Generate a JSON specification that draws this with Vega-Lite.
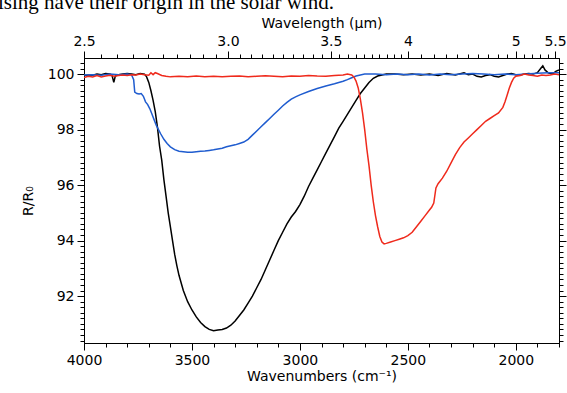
{
  "$schema": "https://vega.github.io/schema/vega-lite/v6.json",
  "width": 475,
  "height": 285,
  "autosize": "none",
  "padding": {"left": 84, "top": 58, "right": 8, "bottom": 50},
  "background": "white",
  "title": {
    "text": "ising have their origin in the solar wind.",
    "anchor": "start",
    "frame": "group",
    "font": "Liberation Serif",
    "fontSize": 21,
    "fontWeight": "normal",
    "color": "black",
    "baseline": "alphabetic",
    "offset": 0,
    "dx": -86,
    "dy": 14
  },
  "config": {
    "view": {"stroke": null},
    "axis": {
      "grid": false,
      "domainColor": "black",
      "tickColor": "black",
      "domainWidth": 1,
      "tickWidth": 1,
      "labelFont": "DejaVu Sans",
      "labelFontSize": 14,
      "labelColor": "black",
      "titleFont": "DejaVu Sans",
      "titleFontSize": 14,
      "titleFontWeight": "normal",
      "titleColor": "black",
      "labelFlush": false,
      "labelOverlap": false,
      "labelBound": false
    }
  },
  "datasets": {
    "spectra": [
      {"w": 4000, "v": 99.95, "s": "black"}, {"w": 3980, "v": 99.97, "s": "black"}, {"w": 3960, "v": 99.96, "s": "black"}, {"w": 3940, "v": 100.0, "s": "black"}, {"w": 3920, "v": 99.98, "s": "black"}, {"w": 3900, "v": 100.02, "s": "black"}, {"w": 3880, "v": 100.0, "s": "black"}, {"w": 3870, "v": 99.95, "s": "black"}, {"w": 3862, "v": 99.7, "s": "black"}, {"w": 3855, "v": 99.93, "s": "black"}, {"w": 3840, "v": 99.98, "s": "black"}, {"w": 3820, "v": 100.0, "s": "black"}, {"w": 3800, "v": 100.02, "s": "black"}, {"w": 3780, "v": 100.0, "s": "black"}, {"w": 3760, "v": 99.98, "s": "black"}, {"w": 3740, "v": 100.02, "s": "black"}, {"w": 3720, "v": 100.0, "s": "black"}, {"w": 3710, "v": 99.9, "s": "black"}, {"w": 3700, "v": 99.7, "s": "black"}, {"w": 3690, "v": 99.4, "s": "black"}, {"w": 3680, "v": 99.05, "s": "black"}, {"w": 3670, "v": 98.65, "s": "black"}, {"w": 3660, "v": 98.1, "s": "black"}, {"w": 3650, "v": 97.4, "s": "black"}, {"w": 3640, "v": 96.9, "s": "black"}, {"w": 3630, "v": 96.2, "s": "black"}, {"w": 3620, "v": 95.6, "s": "black"}, {"w": 3610, "v": 95.0, "s": "black"}, {"w": 3600, "v": 94.5, "s": "black"}, {"w": 3590, "v": 94.0, "s": "black"}, {"w": 3580, "v": 93.5, "s": "black"}, {"w": 3570, "v": 93.1, "s": "black"}, {"w": 3560, "v": 92.75, "s": "black"}, {"w": 3540, "v": 92.2, "s": "black"}, {"w": 3520, "v": 91.8, "s": "black"}, {"w": 3500, "v": 91.5, "s": "black"}, {"w": 3480, "v": 91.25, "s": "black"}, {"w": 3460, "v": 91.05, "s": "black"}, {"w": 3440, "v": 90.9, "s": "black"}, {"w": 3420, "v": 90.8, "s": "black"}, {"w": 3400, "v": 90.75, "s": "black"}, {"w": 3380, "v": 90.78, "s": "black"}, {"w": 3360, "v": 90.8, "s": "black"}, {"w": 3340, "v": 90.85, "s": "black"}, {"w": 3320, "v": 90.95, "s": "black"}, {"w": 3300, "v": 91.1, "s": "black"}, {"w": 3280, "v": 91.3, "s": "black"}, {"w": 3260, "v": 91.5, "s": "black"}, {"w": 3240, "v": 91.75, "s": "black"}, {"w": 3220, "v": 92.0, "s": "black"}, {"w": 3200, "v": 92.3, "s": "black"}, {"w": 3180, "v": 92.6, "s": "black"}, {"w": 3160, "v": 92.95, "s": "black"}, {"w": 3140, "v": 93.3, "s": "black"}, {"w": 3120, "v": 93.65, "s": "black"}, {"w": 3100, "v": 94.0, "s": "black"}, {"w": 3080, "v": 94.3, "s": "black"}, {"w": 3060, "v": 94.6, "s": "black"}, {"w": 3040, "v": 94.85, "s": "black"}, {"w": 3020, "v": 95.05, "s": "black"}, {"w": 3000, "v": 95.3, "s": "black"}, {"w": 2980, "v": 95.6, "s": "black"}, {"w": 2960, "v": 95.95, "s": "black"}, {"w": 2940, "v": 96.25, "s": "black"}, {"w": 2920, "v": 96.55, "s": "black"}, {"w": 2900, "v": 96.85, "s": "black"}, {"w": 2880, "v": 97.15, "s": "black"}, {"w": 2860, "v": 97.45, "s": "black"}, {"w": 2840, "v": 97.75, "s": "black"}, {"w": 2820, "v": 98.05, "s": "black"}, {"w": 2800, "v": 98.3, "s": "black"}, {"w": 2780, "v": 98.55, "s": "black"}, {"w": 2760, "v": 98.8, "s": "black"}, {"w": 2740, "v": 99.05, "s": "black"}, {"w": 2720, "v": 99.3, "s": "black"}, {"w": 2700, "v": 99.5, "s": "black"}, {"w": 2680, "v": 99.7, "s": "black"}, {"w": 2660, "v": 99.85, "s": "black"}, {"w": 2640, "v": 99.93, "s": "black"}, {"w": 2620, "v": 99.97, "s": "black"}, {"w": 2600, "v": 100.0, "s": "black"}, {"w": 2560, "v": 100.0, "s": "black"}, {"w": 2520, "v": 99.98, "s": "black"}, {"w": 2480, "v": 100.0, "s": "black"}, {"w": 2440, "v": 99.97, "s": "black"}, {"w": 2400, "v": 100.0, "s": "black"}, {"w": 2360, "v": 99.95, "s": "black"}, {"w": 2320, "v": 100.02, "s": "black"}, {"w": 2280, "v": 99.97, "s": "black"}, {"w": 2240, "v": 100.05, "s": "black"}, {"w": 2220, "v": 99.98, "s": "black"}, {"w": 2200, "v": 100.0, "s": "black"}, {"w": 2180, "v": 99.92, "s": "black"}, {"w": 2160, "v": 99.9, "s": "black"}, {"w": 2140, "v": 99.95, "s": "black"}, {"w": 2120, "v": 99.98, "s": "black"}, {"w": 2100, "v": 99.92, "s": "black"}, {"w": 2080, "v": 99.9, "s": "black"}, {"w": 2060, "v": 99.95, "s": "black"}, {"w": 2040, "v": 100.0, "s": "black"}, {"w": 2020, "v": 100.02, "s": "black"}, {"w": 2000, "v": 99.98, "s": "black"}, {"w": 1980, "v": 99.97, "s": "black"}, {"w": 1960, "v": 100.0, "s": "black"}, {"w": 1940, "v": 100.02, "s": "black"}, {"w": 1920, "v": 100.0, "s": "black"}, {"w": 1900, "v": 100.05, "s": "black"}, {"w": 1885, "v": 100.2, "s": "black"}, {"w": 1875, "v": 100.3, "s": "black"}, {"w": 1865, "v": 100.15, "s": "black"}, {"w": 1850, "v": 100.05, "s": "black"}, {"w": 1830, "v": 100.0, "s": "black"}, {"w": 1815, "v": 100.1, "s": "black"}, {"w": 1800, "v": 100.15, "s": "black"},

      {"w": 4000, "v": 99.97, "s": "blue"}, {"w": 3960, "v": 99.98, "s": "blue"}, {"w": 3920, "v": 99.96, "s": "blue"}, {"w": 3880, "v": 100.0, "s": "blue"}, {"w": 3840, "v": 99.98, "s": "blue"}, {"w": 3800, "v": 100.0, "s": "blue"}, {"w": 3780, "v": 99.98, "s": "blue"}, {"w": 3770, "v": 99.8, "s": "blue"}, {"w": 3765, "v": 99.35, "s": "blue"}, {"w": 3755, "v": 99.3, "s": "blue"}, {"w": 3745, "v": 99.28, "s": "blue"}, {"w": 3735, "v": 99.3, "s": "blue"}, {"w": 3725, "v": 99.2, "s": "blue"}, {"w": 3715, "v": 99.0, "s": "blue"}, {"w": 3705, "v": 98.9, "s": "blue"}, {"w": 3695, "v": 98.75, "s": "blue"}, {"w": 3685, "v": 98.55, "s": "blue"}, {"w": 3675, "v": 98.35, "s": "blue"}, {"w": 3665, "v": 98.15, "s": "blue"}, {"w": 3655, "v": 98.0, "s": "blue"}, {"w": 3645, "v": 97.85, "s": "blue"}, {"w": 3630, "v": 97.65, "s": "blue"}, {"w": 3615, "v": 97.5, "s": "blue"}, {"w": 3600, "v": 97.38, "s": "blue"}, {"w": 3580, "v": 97.28, "s": "blue"}, {"w": 3560, "v": 97.22, "s": "blue"}, {"w": 3540, "v": 97.2, "s": "blue"}, {"w": 3520, "v": 97.18, "s": "blue"}, {"w": 3500, "v": 97.18, "s": "blue"}, {"w": 3480, "v": 97.2, "s": "blue"}, {"w": 3460, "v": 97.22, "s": "blue"}, {"w": 3440, "v": 97.23, "s": "blue"}, {"w": 3420, "v": 97.25, "s": "blue"}, {"w": 3400, "v": 97.27, "s": "blue"}, {"w": 3380, "v": 97.3, "s": "blue"}, {"w": 3360, "v": 97.33, "s": "blue"}, {"w": 3340, "v": 97.38, "s": "blue"}, {"w": 3320, "v": 97.42, "s": "blue"}, {"w": 3300, "v": 97.45, "s": "blue"}, {"w": 3280, "v": 97.5, "s": "blue"}, {"w": 3260, "v": 97.55, "s": "blue"}, {"w": 3240, "v": 97.65, "s": "blue"}, {"w": 3220, "v": 97.8, "s": "blue"}, {"w": 3200, "v": 97.95, "s": "blue"}, {"w": 3180, "v": 98.1, "s": "blue"}, {"w": 3160, "v": 98.25, "s": "blue"}, {"w": 3140, "v": 98.4, "s": "blue"}, {"w": 3120, "v": 98.55, "s": "blue"}, {"w": 3100, "v": 98.7, "s": "blue"}, {"w": 3080, "v": 98.85, "s": "blue"}, {"w": 3060, "v": 98.98, "s": "blue"}, {"w": 3040, "v": 99.1, "s": "blue"}, {"w": 3020, "v": 99.18, "s": "blue"}, {"w": 3000, "v": 99.25, "s": "blue"}, {"w": 2960, "v": 99.37, "s": "blue"}, {"w": 2920, "v": 99.48, "s": "blue"}, {"w": 2880, "v": 99.57, "s": "blue"}, {"w": 2840, "v": 99.65, "s": "blue"}, {"w": 2800, "v": 99.74, "s": "blue"}, {"w": 2780, "v": 99.8, "s": "blue"}, {"w": 2760, "v": 99.87, "s": "blue"}, {"w": 2740, "v": 99.93, "s": "blue"}, {"w": 2720, "v": 99.97, "s": "blue"}, {"w": 2700, "v": 100.0, "s": "blue"}, {"w": 2650, "v": 100.0, "s": "blue"}, {"w": 2600, "v": 99.98, "s": "blue"}, {"w": 2550, "v": 100.0, "s": "blue"}, {"w": 2500, "v": 99.98, "s": "blue"}, {"w": 2450, "v": 100.0, "s": "blue"}, {"w": 2400, "v": 99.97, "s": "blue"}, {"w": 2350, "v": 100.0, "s": "blue"}, {"w": 2300, "v": 99.98, "s": "blue"}, {"w": 2250, "v": 100.0, "s": "blue"}, {"w": 2200, "v": 100.02, "s": "blue"}, {"w": 2150, "v": 100.0, "s": "blue"}, {"w": 2100, "v": 99.98, "s": "blue"}, {"w": 2050, "v": 100.0, "s": "blue"}, {"w": 2000, "v": 99.98, "s": "blue"}, {"w": 1950, "v": 100.0, "s": "blue"}, {"w": 1900, "v": 100.03, "s": "blue"}, {"w": 1850, "v": 100.05, "s": "blue"}, {"w": 1800, "v": 100.05, "s": "blue"},

      {"w": 4000, "v": 99.88, "s": "red"}, {"w": 3980, "v": 99.92, "s": "red"}, {"w": 3960, "v": 99.9, "s": "red"}, {"w": 3940, "v": 99.95, "s": "red"}, {"w": 3920, "v": 99.9, "s": "red"}, {"w": 3900, "v": 99.93, "s": "red"}, {"w": 3880, "v": 99.96, "s": "red"}, {"w": 3860, "v": 99.92, "s": "red"}, {"w": 3840, "v": 99.95, "s": "red"}, {"w": 3820, "v": 99.97, "s": "red"}, {"w": 3800, "v": 99.95, "s": "red"}, {"w": 3780, "v": 99.98, "s": "red"}, {"w": 3760, "v": 99.97, "s": "red"}, {"w": 3740, "v": 100.0, "s": "red"}, {"w": 3720, "v": 99.98, "s": "red"}, {"w": 3700, "v": 99.96, "s": "red"}, {"w": 3690, "v": 100.05, "s": "red"}, {"w": 3680, "v": 99.98, "s": "red"}, {"w": 3670, "v": 100.05, "s": "red"}, {"w": 3660, "v": 100.02, "s": "red"}, {"w": 3640, "v": 99.95, "s": "red"}, {"w": 3620, "v": 99.92, "s": "red"}, {"w": 3600, "v": 99.9, "s": "red"}, {"w": 3560, "v": 99.92, "s": "red"}, {"w": 3520, "v": 99.9, "s": "red"}, {"w": 3480, "v": 99.93, "s": "red"}, {"w": 3440, "v": 99.9, "s": "red"}, {"w": 3400, "v": 99.92, "s": "red"}, {"w": 3360, "v": 99.9, "s": "red"}, {"w": 3320, "v": 99.92, "s": "red"}, {"w": 3280, "v": 99.93, "s": "red"}, {"w": 3240, "v": 99.9, "s": "red"}, {"w": 3200, "v": 99.92, "s": "red"}, {"w": 3160, "v": 99.94, "s": "red"}, {"w": 3120, "v": 99.92, "s": "red"}, {"w": 3080, "v": 99.9, "s": "red"}, {"w": 3040, "v": 99.93, "s": "red"}, {"w": 3000, "v": 99.92, "s": "red"}, {"w": 2960, "v": 99.95, "s": "red"}, {"w": 2920, "v": 99.93, "s": "red"}, {"w": 2880, "v": 99.92, "s": "red"}, {"w": 2840, "v": 99.95, "s": "red"}, {"w": 2800, "v": 99.97, "s": "red"}, {"w": 2780, "v": 100.0, "s": "red"}, {"w": 2760, "v": 99.97, "s": "red"}, {"w": 2750, "v": 99.9, "s": "red"}, {"w": 2740, "v": 99.75, "s": "red"}, {"w": 2730, "v": 99.5, "s": "red"}, {"w": 2720, "v": 99.1, "s": "red"}, {"w": 2710, "v": 98.6, "s": "red"}, {"w": 2700, "v": 98.0, "s": "red"}, {"w": 2690, "v": 97.3, "s": "red"}, {"w": 2680, "v": 96.7, "s": "red"}, {"w": 2670, "v": 96.0, "s": "red"}, {"w": 2660, "v": 95.4, "s": "red"}, {"w": 2650, "v": 94.9, "s": "red"}, {"w": 2640, "v": 94.5, "s": "red"}, {"w": 2630, "v": 94.15, "s": "red"}, {"w": 2620, "v": 93.95, "s": "red"}, {"w": 2610, "v": 93.88, "s": "red"}, {"w": 2600, "v": 93.9, "s": "red"}, {"w": 2580, "v": 93.95, "s": "red"}, {"w": 2560, "v": 94.0, "s": "red"}, {"w": 2540, "v": 94.05, "s": "red"}, {"w": 2520, "v": 94.1, "s": "red"}, {"w": 2500, "v": 94.18, "s": "red"}, {"w": 2480, "v": 94.3, "s": "red"}, {"w": 2460, "v": 94.5, "s": "red"}, {"w": 2440, "v": 94.7, "s": "red"}, {"w": 2420, "v": 94.9, "s": "red"}, {"w": 2400, "v": 95.1, "s": "red"}, {"w": 2390, "v": 95.2, "s": "red"}, {"w": 2380, "v": 95.35, "s": "red"}, {"w": 2370, "v": 95.9, "s": "red"}, {"w": 2360, "v": 96.05, "s": "red"}, {"w": 2340, "v": 96.25, "s": "red"}, {"w": 2320, "v": 96.5, "s": "red"}, {"w": 2300, "v": 96.8, "s": "red"}, {"w": 2280, "v": 97.1, "s": "red"}, {"w": 2260, "v": 97.35, "s": "red"}, {"w": 2240, "v": 97.55, "s": "red"}, {"w": 2220, "v": 97.7, "s": "red"}, {"w": 2200, "v": 97.85, "s": "red"}, {"w": 2180, "v": 98.0, "s": "red"}, {"w": 2160, "v": 98.15, "s": "red"}, {"w": 2140, "v": 98.3, "s": "red"}, {"w": 2120, "v": 98.4, "s": "red"}, {"w": 2100, "v": 98.5, "s": "red"}, {"w": 2080, "v": 98.6, "s": "red"}, {"w": 2060, "v": 98.8, "s": "red"}, {"w": 2050, "v": 99.0, "s": "red"}, {"w": 2040, "v": 99.25, "s": "red"}, {"w": 2030, "v": 99.5, "s": "red"}, {"w": 2020, "v": 99.7, "s": "red"}, {"w": 2010, "v": 99.85, "s": "red"}, {"w": 2000, "v": 99.92, "s": "red"}, {"w": 1980, "v": 99.95, "s": "red"}, {"w": 1960, "v": 100.0, "s": "red"}, {"w": 1940, "v": 99.97, "s": "red"}, {"w": 1920, "v": 99.95, "s": "red"}, {"w": 1900, "v": 99.92, "s": "red"}, {"w": 1880, "v": 99.97, "s": "red"}, {"w": 1860, "v": 99.95, "s": "red"}, {"w": 1840, "v": 99.97, "s": "red"}, {"w": 1820, "v": 100.0, "s": "red"}, {"w": 1800, "v": 99.98, "s": "red"}
    ]
  },
  "data": {"name": "spectra"},
  "layer": [
    {
      "mark": {"type": "line", "strokeWidth": 1.5, "clip": true},
      "encoding": {
        "x": {"field": "w", "type": "quantitative", "scale": {"domain": [4000, 1800], "nice": false, "zero": false},
              "axis": {"orient": "bottom", "values": [4000, 3500, 3000, 2500, 2000], "format": "d", "tickSize": 7, "labelPadding": 3, "title": "Wavenumbers (cm⁻¹)", "titlePadding": 2}},
        "y": {"field": "v", "type": "quantitative", "scale": {"domain": [90.31, 100.58], "nice": false, "zero": false},
              "axis": {"orient": "left", "values": [92, 94, 96, 98, 100], "tickSize": 7, "labelPadding": 3, "title": "R/R₀", "titlePadding": 12}},
        "color": {"field": "s", "type": "nominal", "scale": {"domain": ["black", "blue", "red"], "range": ["#000000", "#1f5ccf", "#ef2a1c"]}, "legend": null},
        "detail": {"field": "s"}
      }
    },
    {
      "mark": {"type": "line", "opacity": 0},
      "encoding": {
        "x": {"field": "w", "type": "quantitative", "scale": {"domain": [4000, 1800], "nice": false, "zero": false},
              "axis": {"orient": "bottom", "values": [3900, 3800, 3700, 3600, 3400, 3300, 3200, 3100, 2900, 2800, 2700, 2600, 2400, 2300, 2200, 2100, 1900, 1800], "tickSize": 4, "labels": false, "title": null}},
        "y": {"field": "v", "type": "quantitative", "scale": {"domain": [90.31, 100.58], "nice": false, "zero": false},
              "axis": {"orient": "left", "values": [90.4, 90.6, 90.8, 91, 91.2, 91.4, 91.6, 91.8, 92.2, 92.4, 92.6, 92.8, 93, 93.2, 93.4, 93.6, 93.8, 94.2, 94.4, 94.6, 94.8, 95, 95.2, 95.4, 95.6, 95.8, 96.2, 96.4, 96.6, 96.8, 97, 97.2, 97.4, 97.6, 97.8, 98.2, 98.4, 98.6, 98.8, 99, 99.2, 99.4, 99.6, 99.8, 100.2, 100.4], "tickSize": 4, "labels": false, "title": null}},
        "detail": {"field": "s"}
      }
    },
    {
      "mark": {"type": "line", "opacity": 0},
      "encoding": {
        "x": {"field": "w", "type": "quantitative", "scale": {"domain": [4000, 1800], "nice": false, "zero": false},
              "axis": {"orient": "top", "values": [4000, 3333.333, 2857.143, 2500, 2000, 1818.182], "tickSize": 7, "labelPadding": 3,
                       "labelExpr": "datum.value > 3900 ? '2.5' : datum.value > 3000 ? '3.0' : datum.value > 2600 ? '3.5' : datum.value > 2400 ? '4' : datum.value > 1900 ? '5' : '5.5'",
                       "title": "Wavelength (µm)", "titlePadding": 4}},
        "y": {"field": "v", "type": "quantitative", "scale": {"domain": [90.31, 100.58], "nice": false, "zero": false},
              "axis": {"orient": "right", "values": [92, 94, 96, 98, 100], "tickSize": 7, "labels": false, "title": null}},
        "detail": {"field": "s"}
      }
    },
    {
      "mark": {"type": "line", "opacity": 0},
      "encoding": {
        "x": {"field": "w", "type": "quantitative", "scale": {"domain": [4000, 1800], "nice": false, "zero": false},
              "axis": {"orient": "top", "values": [3921.57, 3846.15, 3773.58, 3703.70, 3636.36, 3571.43, 3508.77, 3448.28, 3389.83, 3278.69, 3225.81, 3174.60, 3125, 3076.92, 3030.30, 2985.07, 2941.18, 2898.55, 2816.90, 2777.78, 2739.73, 2702.70, 2666.67, 2631.58, 2597.40, 2564.10, 2531.65, 2439.02, 2380.95, 2325.58, 2272.73, 2222.22, 2173.91, 2127.66, 2083.33, 2040.82, 1960.78, 1923.08, 1886.79, 1851.85], "tickSize": 4, "labels": false, "title": null}},
        "y": {"field": "v", "type": "quantitative", "scale": {"domain": [90.31, 100.58], "nice": false, "zero": false},
              "axis": {"orient": "right", "values": [90.4, 90.6, 90.8, 91, 91.2, 91.4, 91.6, 91.8, 92.2, 92.4, 92.6, 92.8, 93, 93.2, 93.4, 93.6, 93.8, 94.2, 94.4, 94.6, 94.8, 95, 95.2, 95.4, 95.6, 95.8, 96.2, 96.4, 96.6, 96.8, 97, 97.2, 97.4, 97.6, 97.8, 98.2, 98.4, 98.6, 98.8, 99, 99.2, 99.4, 99.6, 99.8, 100.2, 100.4], "tickSize": 4, "labels": false, "title": null}},
        "detail": {"field": "s"}
      }
    }
  ],
  "resolve": {"axis": {"x": "independent", "y": "independent"}}
}
